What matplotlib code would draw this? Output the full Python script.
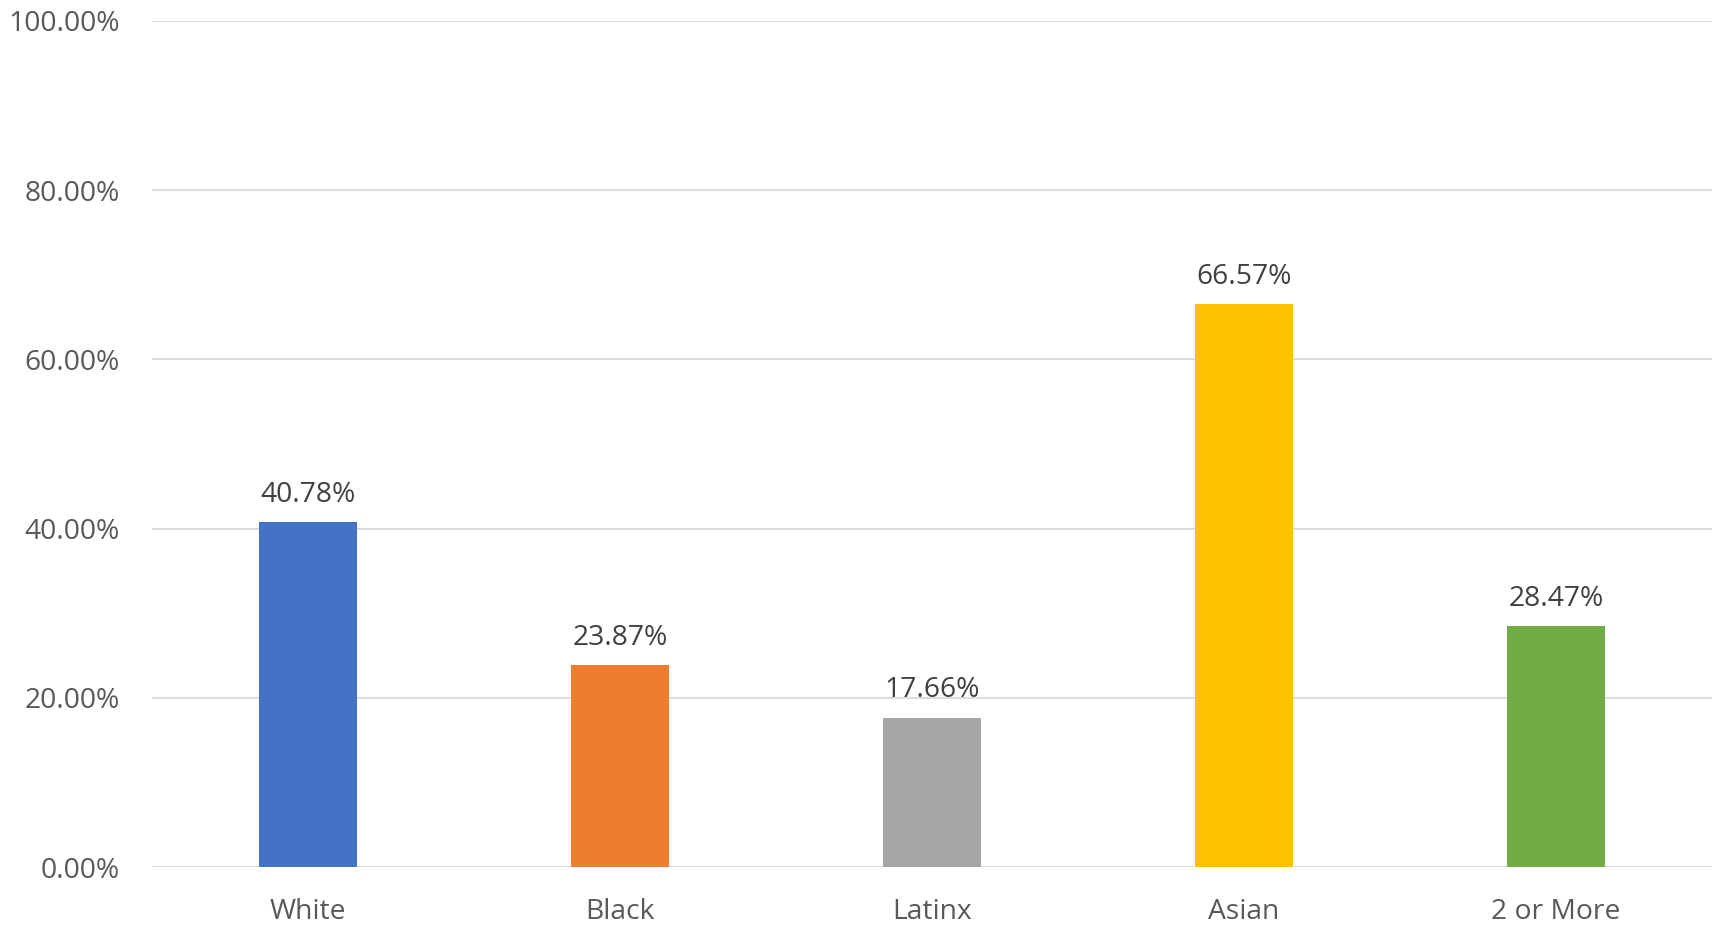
import matplotlib
matplotlib.use("Agg")
import matplotlib.pyplot as plt
from matplotlib.ticker import FuncFormatter

categories = ['White', 'Black', 'Latinx', 'Asian', '2 or More']
rates = [40.78, 23.87, 17.66, 66.57, 28.47]
colors = ['#4472C4', '#ED7D31', '#A5A5A5', '#FFC000', '#70AD47']
yticks = [0, 20, 40, 60, 80, 100]

plt.rcParams['font.family'] = ['Open Sans', 'DejaVu Sans']

fig = plt.figure(figsize=(17.15, 9.25), dpi=100)
ax = fig.add_axes([152/1715, 1 - 867/925, 1560/1715, 846/925])

x = list(range(len(categories)))
bars = ax.bar(x, rates, width=0.314, color=colors, zorder=3)

for xi, v in zip(x, rates):
    ax.annotate(f'{v:.2f}%', (xi, v), xytext=(0, 9.5), textcoords='offset points',
                ha='center', va='bottom', fontsize=20.3, color='#404040')

ax.set_xlim(-0.5, len(categories) - 0.5)
ax.set_ylim(0, 100)
ax.set_yticks(yticks)
ax.yaxis.set_major_formatter(FuncFormatter(lambda v, p: f'{v:.2f}%'))
ax.set_xticks(x)
ax.set_xticklabels(categories)

ax.grid(axis='y', color='#d9d9d9', linewidth=1.3, zorder=0)
ax.tick_params(axis='y', length=0, pad=23, labelsize=20.3, labelcolor='#595959')
ax.tick_params(axis='x', length=0, pad=22.5, labelsize=20.3, labelcolor='#595959')
for s in ax.spines.values():
    s.set_visible(False)

fig.savefig('out.png', dpi=100)
